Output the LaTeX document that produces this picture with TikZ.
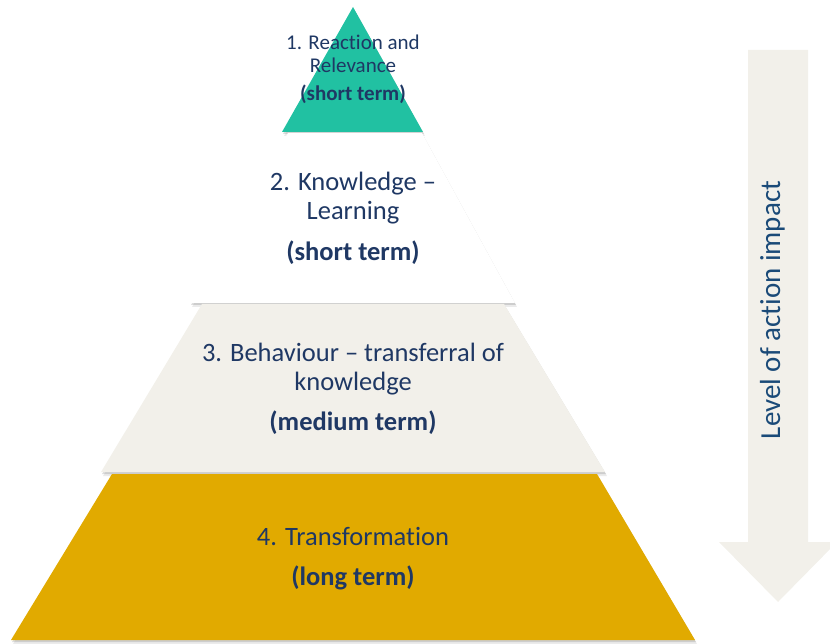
\documentclass[tikz,border=0pt]{standalone}
\usepackage{fontspec}
\setmainfont{Carlito}[Ligatures={NoCommon}]
\definecolor{tealtop}{HTML}{21C1A2}
\definecolor{beige}{HTML}{F2F0EA}
\definecolor{mustard}{HTML}{E1AA00}
\definecolor{navy}{HTML}{1F3864}
\definecolor{arrowtext}{HTML}{1A4A78}
\newcommand{\tisep}{\kern0pt\relax}
\tikzset{
  layershadow/.style={fill=black, opacity=0.13},
  layershadowb/.style={fill=black, opacity=0.08},
  bigtxt/.style={anchor=base, text=navy, inner sep=0pt, font=\fontsize{26.5}{28}\selectfont},
  bigbold/.style={bigtxt, font=\fontsize{26.5}{28}\selectfont\bfseries},
  smalltxt/.style={anchor=base, text=navy, inner sep=0pt, font=\fontsize{21}{22}\selectfont},
  smallbold/.style={smalltxt, font=\fontsize{21}{22}\selectfont\bfseries},
}
\begin{document}
\begin{tikzpicture}[x=1pt,y=-1pt]
\useasboundingbox (0,0) rectangle (830,644);
% arrow
\fill[beige] (748,50) -- (808,50) -- (808,542) -- (837,542) -- (778,602) -- (719,542) -- (748,542) -- cycle;
\node[anchor=base, rotate=90, text=arrowtext, inner sep=0pt, font=\fontsize{29}{30}\selectfont] (arrowlabel) at (780,310) {Level of act\tisep ion impact};
% layer 1
\fill[layershadowb] ([shift={(2,4)}]282,132) -- ([shift={(2,4)}]353,7) -- ([shift={(2,4)}]423,132) -- cycle;
\fill[layershadow] ([shift={(1,2)}]282,132) -- ([shift={(1,2)}]353,7) -- ([shift={(1,2)}]423,132) -- cycle;
\fill[tealtop] (282,132) -- (353,7) -- (423,132) -- cycle;
% layer 2
\fill[layershadowb] ([shift={(2,4)}]288,133) -- ([shift={(2,4)}]422,133) -- ([shift={(2,4)}]515,303) -- ([shift={(2,4)}]190,303) -- cycle;
\fill[layershadow] ([shift={(1,2)}]288,133) -- ([shift={(1,2)}]422,133) -- ([shift={(1,2)}]515,303) -- ([shift={(1,2)}]190,303) -- cycle;
\fill[white] (288,133) -- (422,133) -- (515,303) -- (190,303) -- cycle;
% layer 3
\fill[layershadowb] ([shift={(2,4)}]202,304) -- ([shift={(2,4)}]504,304) -- ([shift={(2,4)}]605,472) -- ([shift={(2,4)}]101,472) -- cycle;
\fill[layershadow] ([shift={(1,2)}]202,304) -- ([shift={(1,2)}]504,304) -- ([shift={(1,2)}]605,472) -- ([shift={(1,2)}]101,472) -- cycle;
\fill[beige] (202,304) -- (504,304) -- (605,472) -- (101,472) -- cycle;
% layer 4
\fill[layershadowb] ([shift={(2,4)}]112,474) -- ([shift={(2,4)}]597,474) -- ([shift={(2,4)}]695,640) -- ([shift={(2,4)}]11,640) -- cycle;
\fill[layershadow] ([shift={(1,2)}]112,474) -- ([shift={(1,2)}]597,474) -- ([shift={(1,2)}]695,640) -- ([shift={(1,2)}]11,640) -- cycle;
\fill[mustard] (112,474) -- (597,474) -- (695,640) -- (11,640) -- cycle;
% texts
\node[smalltxt] (t1a) at (353,50) {1. React\tisep ion and};
\node[smalltxt] (t1b) at (353,73) {Relevance};
\node[smallbold] (t1c) at (353,101) {(short term)};
\node[bigtxt] (t2a) at (353,191) {2. Knowledge –};
\node[bigtxt] (t2b) at (353,220) {Learning};
\node[bigbold] (t2c) at (353,261) {(short term)};
\node[bigtxt] (t3a) at (353,361) {3. Behaviour – transferral of};
\node[bigtxt] (t3b) at (353,390) {knowledge};
\node[bigbold] (t3c) at (353,430) {(medium term)};
\node[bigtxt] (t4a) at (353,545) {4. Transformat\tisep ion};
\node[bigbold] (t4b) at (353,585) {(long term)};
\end{tikzpicture}
\end{document}
